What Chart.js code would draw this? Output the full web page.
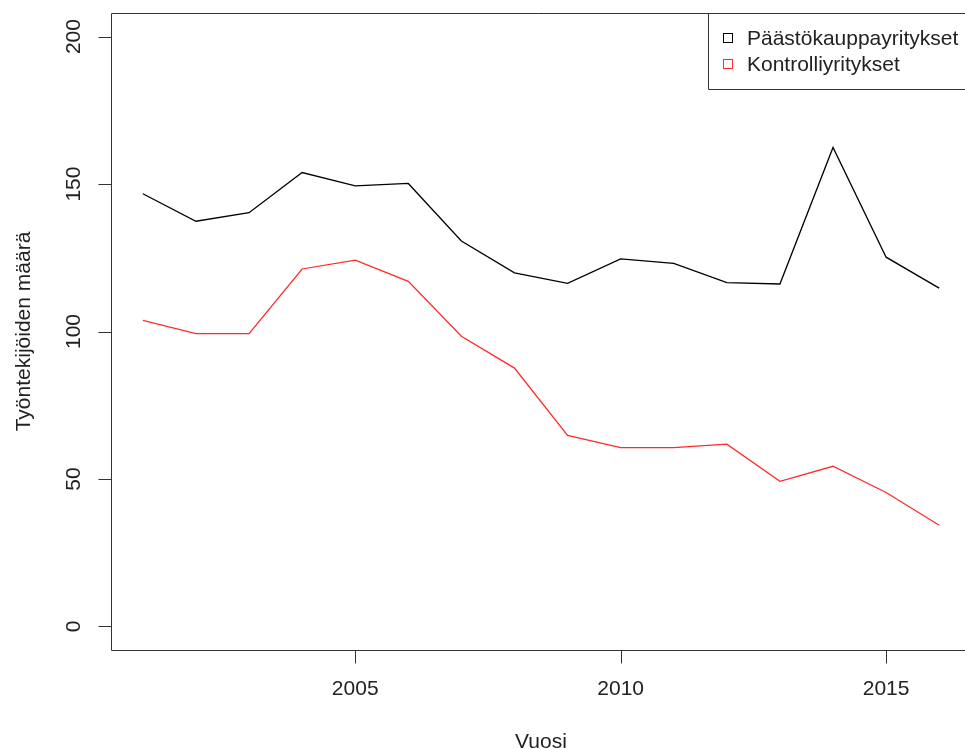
<!DOCTYPE html>
<html>
<head>
<meta charset="utf-8">
<script src="https://cdn.jsdelivr.net/npm/chart.js@4/dist/chart.umd.min.js"></script>
<style>
  html, body { margin: 0; padding: 0; background: #fff; overflow: hidden; }
</style>
</head>
<body>
<canvas id="chart" width="965" height="749"></canvas>
<script>
const years = [2001, 2002, 2003, 2004, 2005, 2006, 2007, 2008, 2009, 2010, 2011, 2012, 2013, 2014, 2015, 2016];
const paastokauppa = [146.7, 137.4, 140.3, 153.9, 149.4, 150.2, 130.7, 119.9, 116.3, 124.6, 123.1, 116.6, 116.1, 162.4, 125.2, 114.7];
const kontrolli = [103.8, 99.3, 99.3, 121.2, 124.2, 117.0, 98.4, 87.6, 64.8, 60.6, 60.6, 61.8, 49.2, 54.3, 45.4, 34.3];
const seriesNames = ['Päästökauppayritykset', 'Kontrolliyritykset'];
const seriesColors = ['#000000', '#ff2a2a'];
const xTicks = [2005, 2010, 2015];
const yTicks = [0, 50, 100, 150, 200];
const xTitle = 'Vuosi';
const yTitle = 'Työntekijöiden määrä';

const FONT = '21px "Liberation Sans", Arial, Helvetica, sans-serif';
const INK = '#222';

// R-style box, axes, titles and legend (the plot's right edge falls outside the picture)
const rStyle = {
    id: 'rStyle',
    afterDraw(chart) {
        const ctx = chart.ctx;
        const {left, right, top, bottom} = chart.chartArea;
        const xs = chart.scales.x;
        const ys = chart.scales.y;
        ctx.save();
        ctx.strokeStyle = '#333';
        ctx.lineWidth = 1;
        ctx.fillStyle = INK;
        ctx.font = FONT;

        const lx = Math.round(left) + 0.5;
        const tx = Math.round(top) + 0.5;
        const bx = Math.round(bottom) + 0.5;

        // box (left, top, bottom)
        ctx.beginPath();
        ctx.moveTo(right + 10, tx);
        ctx.lineTo(lx, tx);
        ctx.lineTo(lx, bx);
        ctx.lineTo(right + 10, bx);
        ctx.stroke();

        // x axis
        ctx.beginPath();
        ctx.moveTo(xs.getPixelForValue(xTicks[0]), bx);
        ctx.lineTo(xs.getPixelForValue(xTicks[xTicks.length - 1]), bx);
        xTicks.forEach(v => {
            const px = Math.round(xs.getPixelForValue(v)) + 0.5;
            ctx.moveTo(px, bx);
            ctx.lineTo(px, bx + 13);
        });
        ctx.stroke();
        ctx.textAlign = 'center';
        ctx.textBaseline = 'middle';
        xTicks.forEach(v => ctx.fillText(String(v), xs.getPixelForValue(v), bottom + 39));

        // y axis
        ctx.beginPath();
        ctx.moveTo(lx, ys.getPixelForValue(yTicks[0]));
        ctx.lineTo(lx, ys.getPixelForValue(yTicks[yTicks.length - 1]));
        yTicks.forEach(v => {
            const py = Math.round(ys.getPixelForValue(v)) + 0.5;
            ctx.moveTo(lx, py);
            ctx.lineTo(lx - 13, py);
        });
        ctx.stroke();
        yTicks.forEach(v => {
            ctx.save();
            ctx.translate(left - 37, ys.getPixelForValue(v));
            ctx.rotate(-Math.PI / 2);
            ctx.fillText(String(v), 0, 0);
            ctx.restore();
        });

        // axis titles
        ctx.textBaseline = 'alphabetic';
        ctx.fillText(xTitle, 541, 748);
        ctx.save();
        ctx.translate(30, (top + bottom) / 2);
        ctx.rotate(-Math.PI / 2);
        ctx.fillText(yTitle, 0, 0);
        ctx.restore();

        // legend
        ctx.beginPath();
        ctx.moveTo(right + 10, 89.5);
        ctx.lineTo(708.5, 89.5);
        ctx.lineTo(708.5, tx);
        ctx.stroke();
        ctx.textAlign = 'left';
        ctx.textBaseline = 'middle';
        seriesNames.forEach((name, i) => {
            const cy = 38 + i * 26;
            ctx.strokeStyle = seriesColors[i];
            ctx.strokeRect(723.5, cy - 4.5, 9, 9);
            ctx.fillStyle = INK;
            ctx.fillText(name, 747, cy + 1);
        });
        ctx.restore();
    }
};

new Chart(document.getElementById('chart'), {
    type: 'line',
    data: {
        datasets: [
            {
                label: seriesNames[0],
                data: years.map((y, i) => ({x: y, y: paastokauppa[i]})),
                borderColor: seriesColors[0],
                borderWidth: 1.3,
                pointRadius: 0,
                fill: false,
                tension: 0,
            },
            {
                label: seriesNames[1],
                data: years.map((y, i) => ({x: y, y: kontrolli[i]})),
                borderColor: seriesColors[1],
                borderWidth: 1.3,
                pointRadius: 0,
                fill: false,
                tension: 0,
            },
        ]
    },
    options: {
        responsive: false,
        animation: false,
        devicePixelRatio: 1,
        layout: {padding: {top: 13, right: 0, left: 0, bottom: 0}},
        plugins: {legend: {display: false}, tooltip: {enabled: false}},
        scales: {
            x: {
                type: 'linear',
                min: 2000.4,
                max: 2016.486,
                grid: {display: false},
                border: {display: false},
                ticks: {display: false},
                afterBuildTicks: s => { s.ticks = xTicks.map(v => ({value: v})); },
                afterFit: s => { s.height = 99; },
            },
            y: {
                type: 'linear',
                min: -8,
                max: 208,
                grid: {display: false},
                border: {display: false},
                ticks: {display: false},
                afterBuildTicks: s => { s.ticks = yTicks.map(v => ({value: v})); },
                afterFit: s => { s.width = 111; },
            }
        }
    },
    plugins: [rStyle]
});
</script>
</body>
</html>
